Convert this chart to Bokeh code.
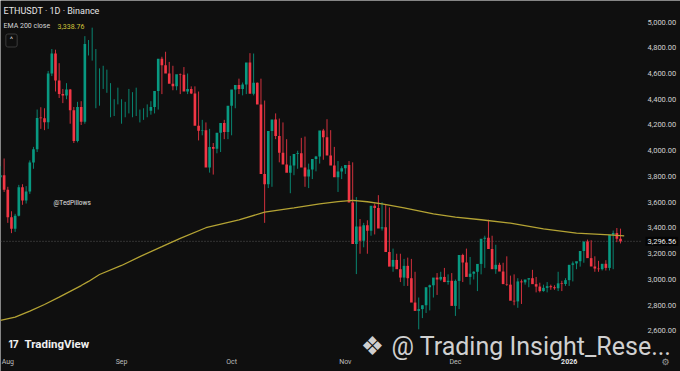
import numpy as np
import pandas as pd
from bokeh.plotting import figure
from bokeh.models import Range1d, Label, ColumnDataSource
from bokeh.core.properties import value
from bokeh.embed import file_html
from bokeh.resources import INLINE

# ---------------- data (ETHUSDT daily) ----------------
start_date = "2025-07-30"
open_ = [3795, 3810, 3697, 3484, 3394, 3496, 3717, 3614, 3684, 3909,
         4012, 4258, 4252, 4222, 4600, 4755, 4545, 4440, 4430, 4475,
         4315, 4075, 4340, 4225, 4760, 4780, 4377, 4600, 4507, 4510,
         4365, 4375, 4390, 4300, 4325, 4445, 4280, 4295, 4255, 4300,
         4305, 4310, 4340, 4465, 4714, 4665, 4600, 4520, 4500, 4595,
         4590, 4460, 4480, 4445, 4195, 4155, 4160, 3870, 4030, 4015,
         4140, 4215, 4145, 4350, 4476, 4510, 4480, 4515, 4685, 4442,
         4528, 4360, 3820, 3740, 4153, 4243, 4114, 3985, 3894, 3830,
         3886, 3975, 3980, 3870, 3800, 3855, 3935, 3955, 4157, 4105,
         3963, 3885, 3795, 3838, 3864, 3890, 3598, 3275, 3412, 3300,
         3421, 3378, 3572, 3555, 3396, 3405, 3214, 3100, 3152, 3080,
         3015, 3106, 3010, 2821, 2756, 2770, 2800, 2940, 2955, 3015,
         3000, 3020, 2980, 2990, 2795, 2989, 3191, 3132, 3020, 3045,
         3060, 3121, 3316, 3325, 3236, 3080, 3114, 3062, 2964, 2960,
         2835, 2830, 2985, 2978, 3000, 3010, 2964, 2945, 2910, 2935,
         2948, 2940, 2932, 2970, 2965, 2995, 3114, 3125, 3142, 3222,
         3295, 3166, 3101, 3085, 3080, 3122, 3090, 3348, 3362, 3317]
high = [3880, 3940, 3720, 3530, 3510, 3735, 3740, 3725, 3925, 4030,
        4320, 4338, 4330, 4620, 4790, 4785, 4680, 4480, 4525, 4480,
        4340, 4380, 4385, 4890, 4860, 4956, 4790, 4640, 4660, 4630,
        4525, 4400, 4490, 4400, 4380, 4480, 4455, 4490, 4320, 4330,
        4360, 4385, 4400, 4480, 4730, 4769, 4690, 4660, 4530, 4600,
        4650, 4600, 4500, 4500, 4460, 4240, 4220, 4170, 4060, 4050,
        4150, 4240, 4230, 4360, 4500, 4560, 4530, 4600, 4758, 4755,
        4530, 4560, 4390, 3900, 4170, 4290, 4250, 4220, 4090, 3960,
        3900, 4000, 4100, 4110, 3900, 3900, 3960, 3970, 4170, 4245,
        4160, 4030, 3920, 3880, 3880, 3920, 3910, 3640, 3470, 3440,
        3460, 3460, 3590, 3655, 3600, 3580, 3560, 3240, 3200, 3200,
        3160, 3170, 3160, 3060, 2860, 2800, 2850, 2960, 2980, 3050,
        3060, 3090, 3040, 3050, 3000, 3010, 3200, 3240, 3175, 3065,
        3100, 3160, 3340, 3464, 3340, 3270, 3130, 3130, 3180, 3030,
        3040, 3010, 3000, 2995, 3010, 3075, 3020, 2975, 2960, 2980,
        2960, 2955, 3060, 2990, 3010, 3000, 3140, 3130, 3160, 3250,
        3310, 3305, 3180, 3145, 3100, 3150, 3160, 3380, 3400, 3395, 3330]
low = [3700, 3680, 3440, 3360, 3370, 3490, 3580, 3590, 3665, 3860,
       3990, 4170, 4160, 4170, 4580, 4460, 4410, 4370, 4400, 4210,
       4060, 4065, 4200, 4210, 4740, 4700, 4330, 4350, 4480, 4450,
       4260, 4270, 4360, 4210, 4260, 4290, 4260, 4270, 4220, 4240,
       4260, 4280, 4290, 4320, 4440, 4630, 4560, 4470, 4470, 4440,
       4560, 4440, 4440, 4430, 4080, 4120, 4080, 3830, 3815, 3980,
       3990, 4090, 4090, 4120, 4330, 4440, 4430, 4440, 4490, 4430,
       4380, 4300, 3440, 3710, 3720, 4090, 3910, 3950, 3890, 3670,
       3810, 3860, 3920, 3720, 3710, 3780, 3840, 3900, 3930, 4090,
       3900, 3860, 3680, 3780, 3820, 3820, 3536, 3042, 3200, 3250,
       3200, 3340, 3350, 3540, 3380, 3365, 3200, 3060, 3090, 2980,
       2950, 2950, 2880, 2790, 2613, 2700, 2740, 2760, 2860, 2880,
       2990, 2980, 2960, 2970, 2717, 2770, 2980, 3090, 2960, 3000,
       2910, 3040, 3090, 3250, 3180, 3044, 3070, 3050, 2950, 2890,
       2800, 2780, 2810, 2960, 2940, 2990, 2900, 2900, 2905, 2900,
       2920, 2920, 2910, 2910, 2950, 2950, 2985, 3080, 3100, 3130,
       3200, 3140, 3060, 3060, 3070, 3070, 3070, 3080, 3290, 3280, 3265]
close = [3810, 3697, 3484, 3394, 3496, 3717, 3614, 3684, 3909, 4012,
         4255, 4252, 4222, 4600, 4755, 4545, 4440, 4430, 4475, 4315,
         4075, 4340, 4225, 4830, 4760, 4780, 4377, 4600, 4507, 4510,
         4365, 4375, 4390, 4300, 4325, 4445, 4280, 4295, 4255, 4300,
         4305, 4340, 4465, 4714, 4665, 4600, 4520, 4500, 4595, 4590,
         4460, 4480, 4445, 4195, 4155, 4160, 3870, 4030, 4015, 4140,
         4215, 4145, 4350, 4476, 4510, 4480, 4515, 4685, 4442, 4528,
         4360, 3820, 3740, 4153, 4243, 4114, 3985, 3894, 3830, 3886,
         3975, 3980, 3870, 3800, 3855, 3935, 3955, 4157, 4105, 3963,
         3885, 3795, 3838, 3864, 3890, 3598, 3275, 3412, 3300, 3421,
         3378, 3572, 3555, 3396, 3405, 3214, 3100, 3152, 3080, 3015,
         3106, 3010, 2821, 2756, 2770, 2800, 2940, 2955, 3015, 3000,
         3020, 2980, 2990, 2795, 2989, 3191, 3132, 3020, 3045, 3060,
         3121, 3316, 3325, 3236, 3080, 3114, 3062, 2964, 2960, 2835,
         2830, 2985, 2978, 3000, 3010, 2964, 2945, 2910, 2935, 2948,
         2940, 2932, 2970, 2965, 2995, 3114, 3125, 3142, 3222, 3295,
         3166, 3101, 3085, 3080, 3122, 3090, 3348, 3362, 3317, 3296.56]

# EMA 200, days counted from 2025-08-01
ema_day = [-2, 2, 6, 10, 14, 20, 22, 25, 31, 36, 42, 47, 54, 63, 70, 78, 85,
           90, 94, 98, 102, 108, 116, 122, 129, 137, 146, 155, 164, 168]
ema_val = [2682, 2707, 2754, 2806, 2863, 2953, 2985, 3039, 3109, 3178, 3255,
           3320, 3402, 3464, 3523, 3557, 3588, 3605, 3614, 3604, 3588, 3557,
           3510, 3484, 3464, 3438, 3394, 3360, 3347, 3339]

month_ticks = ["2025-08-01", "2025-09-01", "2025-10-01", "2025-11-01", "2025-12-01", "2026-01-01"]
month_labels = ["Aug", "Sep", "Oct", "Nov", "Dec", "2026"]
price_ticks = [2600, 2800, 3000, 3200, 3400, 3600, 3800, 4000, 4200, 4400, 4600, 4800, 5000]
last_price = 3296.56
ema_last = 3338.76

# ---------------- layout helpers ----------------
BG = "#0f0f0f"
UP = "#089981"
DOWN = "#f23645"
origin = pd.Timestamp("2025-08-01")
W, H = 680, 371
PANE_R = 640   # right edge of the candle pane (price scale to the right)


def fx(px):  # pixel x -> data x (for overlay texts and ranges)
    return (px - 7.3) / 3.669


def fy(py):  # pixel y -> data y
    return 5000 - (py - 21.5) * 7.767


dates = pd.date_range(start_date, periods=len(close), freq="D")
day = np.array((dates - origin).days, dtype=float)
o = np.array(open_, dtype=float)
c = np.array(close, dtype=float)
colors = np.where(c >= o, UP, DOWN)
src = ColumnDataSource(dict(day=day, open=o, close=c, high=high, low=low,
                            top=np.maximum(o, c), bottom=np.minimum(o, c),
                            color=colors))

p = figure(width=W, height=H, x_range=Range1d(fx(0), fx(W)), y_range=Range1d(fy(H), fy(0)),
           output_backend="svg", toolbar_location=None,
           background_fill_color=BG, border_fill_color=BG, outline_line_color=None,
           min_border=0)
p.grid.visible = False
p.xaxis.visible = False
p.yaxis.visible = False

# current price dotted line (across the candle pane)
p.line([fx(0), fx(PANE_R)], [last_price, last_price], line_color="#5a5a5a",
       line_dash="1 2", line_width=1)

# candles
p.segment(x0="day", y0="low", x1="day", y1="high", line_color="color", line_width=1,
          line_alpha=0.85, source=src)
p.vbar(x="day", width=0.72, top="top", bottom="bottom", fill_color="color",
       line_color=None, source=src)

# EMA 200
p.line(ema_day, ema_val, line_color="#b4a334", line_width=1.3)

# price scale (right)
p.text(x=[fx(647)] * len(price_ticks), y=price_ticks,
       text=[f"{t:,.2f}" for t in price_ticks], text_align="left", text_baseline="middle",
       text_font=value("Roboto"), text_font_size=value("7.5px"), text_color="#cfcfcf")

# time scale (bottom)
tick_days = [int((pd.Timestamp(t) - origin).days) for t in month_ticks]
p.text(x=tick_days[:-1], y=[fy(361)] * (len(tick_days) - 1), text=month_labels[:-1],
       text_align="center", text_baseline="middle", text_font=value("Roboto"),
       text_font_size=value("7px"), text_color="#bdbdbd")
p.text(x=tick_days[-1:], y=[fy(361)], text=month_labels[-1:],
       text_align="center", text_baseline="middle", text_font=value("Roboto"),
       text_font_size=value("7px"), text_font_style="bold", text_color="#e6e6e6")

# current price box
p.add_layout(Label(x=fx(645), y=last_price, text=f"{last_price:,.2f}", text_align="left",
                   text_baseline="middle", text_font="Roboto", text_font_size="7.5px",
                   text_color="#e8e8e8", background_fill_color="#050505", padding=2))

# header texts
p.add_layout(Label(x=fx(3), y=fy(10), text="ETHUSDT · 1D · Binance", text_align="left",
                   text_baseline="middle", text_font="Roboto", text_font_size="9px",
                   text_color="#e6e6e6"))
p.add_layout(Label(x=fx(3), y=fy(25.5), text="EMA 200 close", text_align="left",
                   text_baseline="middle", text_font="Roboto", text_font_size="7px",
                   text_color="#d6d6d6"))
p.add_layout(Label(x=fx(57), y=fy(25.5), text=f"{ema_last:,.2f}", text_align="left",
                   text_baseline="middle", text_font="Roboto", text_font_size="7px",
                   text_color="#d2c23a"))
p.add_layout(Label(x=fx(11), y=fy(40), text="^", text_align="center",
                   text_baseline="middle", text_font="Roboto", text_font_size="8px",
                   text_color="#cfcfcf", border_line_color="#3a3a3a", border_line_width=1,
                   padding=[4, 4, 1, 3], border_radius=2))

p.add_layout(Label(x=fx(53), y=fy(202), text="@TedPillows", text_align="left",
                   text_baseline="middle", text_font="Roboto", text_font_size="6.5px",
                   text_color="#e0e0e0"))

# footer watermarks
p.add_layout(Label(x=fx(8), y=fy(343), text="17", text_align="left",
                   text_baseline="middle", text_font="Inter", text_font_size="10px",
                   text_font_style="bold", text_color="#f0f0f0"))
p.add_layout(Label(x=fx(24), y=fy(343), text="TradingView", text_align="left",
                   text_baseline="middle", text_font="Roboto", text_font_size="11.5px",
                   text_font_style="bold", text_color="#f0f0f0"))
p.add_layout(Label(x=fx(372), y=fy(345), text="❖", text_align="center",
                   text_baseline="middle", text_font="DejaVu Sans", text_font_size="26px",
                   text_color="#cfcfcf"))
p.add_layout(Label(x=fx(391), y=fy(346), text="@ Trading Insight_Rese...", text_align="left",
                   text_baseline="middle", text_font="Roboto", text_font_size="25px",
                   text_color="#d0d0d0"))
p.add_layout(Label(x=fx(665), y=fy(361), text="⚙", text_align="center",
                   text_baseline="middle", text_font="DejaVu Sans", text_font_size="9px",
                   text_color="#9a9a9a"))

open("out.html", "w").write(file_html(p, INLINE))
